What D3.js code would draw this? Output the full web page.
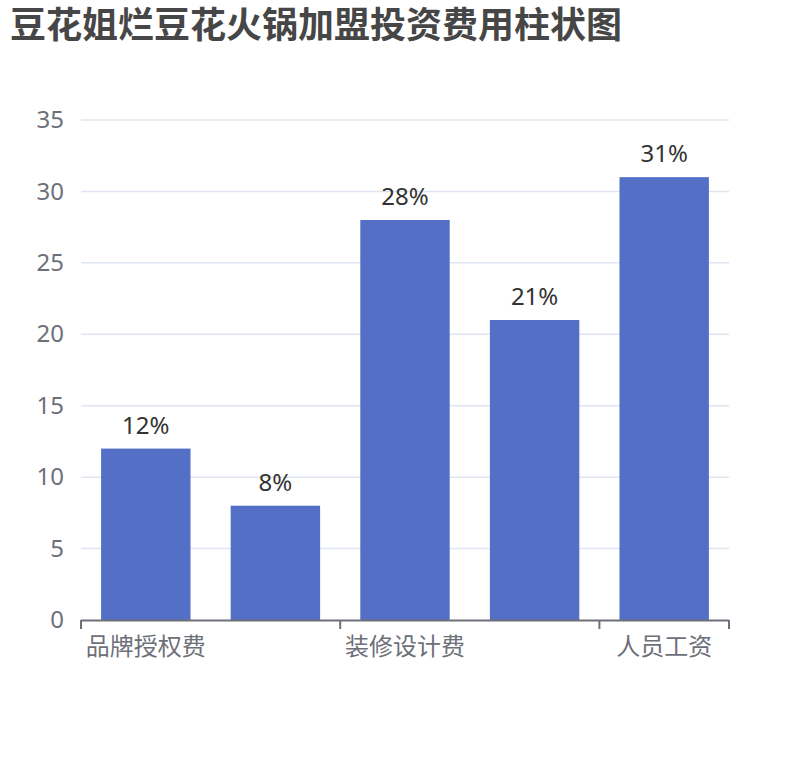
<!DOCTYPE html>
<html>
<head>
<meta charset="utf-8">
<script src="https://cdn.jsdelivr.net/npm/d3@7"></script>
<style>
  body { margin: 0; background: #fff; }
  text { font-family: "Noto Sans CJK SC", "Noto Sans", sans-serif; }
</style>
</head>
<body>
<div id="chart"></div>
<script>
var titleText = "豆花姐烂豆花火锅加盟投资费用柱状图";
var categories = ["品牌授权费", "店铺租金", "装修设计费", "设备采购费", "人员工资"];
var values = [12, 8, 28, 21, 31];
var yTicks = [0, 5, 10, 15, 20, 25, 30, 35];

var W = 810, H = 760;
var plotLeft = 81, plotRight = 729, plotTop = 120, plotBottom = 620;

var svg = d3.select("#chart").append("svg")
  .attr("width", W)
  .attr("height", H);

svg.append("text")
  .attr("x", 10)
  .attr("y", 38)
  .attr("font-size", 36)
  .attr("font-weight", "bold")
  .attr("fill", "#464646")
  .text(titleText);

var x = d3.scaleBand()
  .domain(categories)
  .range([plotLeft, plotRight])
  .paddingInner(0.31)
  .paddingOuter(0.155);

var y = d3.scaleLinear()
  .domain([0, 35])
  .range([plotBottom, plotTop]);

// grid lines
svg.append("g").selectAll("line")
  .data(yTicks.filter(function(d){ return d > 0; }))
  .enter().append("line")
  .attr("x1", plotLeft).attr("x2", plotRight)
  .attr("y1", function(d){ return y(d); })
  .attr("y2", function(d){ return y(d); })
  .attr("stroke", "#E0E6F1")
  .attr("stroke-width", 1.5);

// y axis labels
var yAxis = d3.axisLeft(y).tickValues(yTicks).tickSize(0).tickPadding(17);
var gy = svg.append("g").attr("transform", "translate(" + plotLeft + ",0)").call(yAxis);
gy.select(".domain").remove();
gy.selectAll("text")
  .attr("font-size", 24)
  .attr("fill", "#6E7079")
  .style("font-family", "'Noto Sans', sans-serif");

// bars
svg.append("g").selectAll("rect")
  .data(values)
  .enter().append("rect")
  .attr("x", function(d, i){ return x(categories[i]); })
  .attr("y", function(d){ return y(d); })
  .attr("width", x.bandwidth())
  .attr("height", function(d){ return plotBottom - y(d); })
  .attr("fill", "#5470C6");

// value labels
svg.append("g").selectAll("text")
  .data(values)
  .enter().append("text")
  .attr("x", function(d, i){ return x(categories[i]) + x.bandwidth() / 2; })
  .attr("y", function(d){ return y(d) - 15; })
  .attr("text-anchor", "middle")
  .attr("font-size", 24)
  .attr("fill", "#333")
  .style("font-family", "'Noto Sans', sans-serif")
  .text(function(d){ return d + "%"; });

// x axis: ECharts-style, every other label shown
var xAxis = svg.append("g");
xAxis.append("line")
  .attr("x1", plotLeft).attr("x2", plotRight)
  .attr("y1", plotBottom + 0.5).attr("y2", plotBottom + 0.5)
  .attr("stroke", "#6E7079")
  .attr("stroke-width", 2);

var tickPos = [0, 2, 4].map(function(i){ return x(categories[i]) - x.step() * x.paddingInner() / 2; });
tickPos.push(plotRight);
xAxis.selectAll(".tk")
  .data(tickPos)
  .enter().append("line")
  .attr("class", "tk")
  .attr("x1", function(d){ return d; })
  .attr("x2", function(d){ return d; })
  .attr("y1", plotBottom).attr("y2", plotBottom + 9)
  .attr("stroke", "#6E7079")
  .attr("stroke-width", 2);

xAxis.selectAll(".lbl")
  .data(categories.filter(function(d, i){ return i % 2 === 0; }))
  .enter().append("text")
  .attr("class", "lbl")
  .attr("x", function(d){ return x(d) + x.bandwidth() / 2; })
  .attr("y", plotBottom + 35)
  .attr("text-anchor", "middle")
  .attr("font-size", 24)
  .attr("fill", "#6E7079")
  .text(function(d){ return d; });
</script>
</body>
</html>
